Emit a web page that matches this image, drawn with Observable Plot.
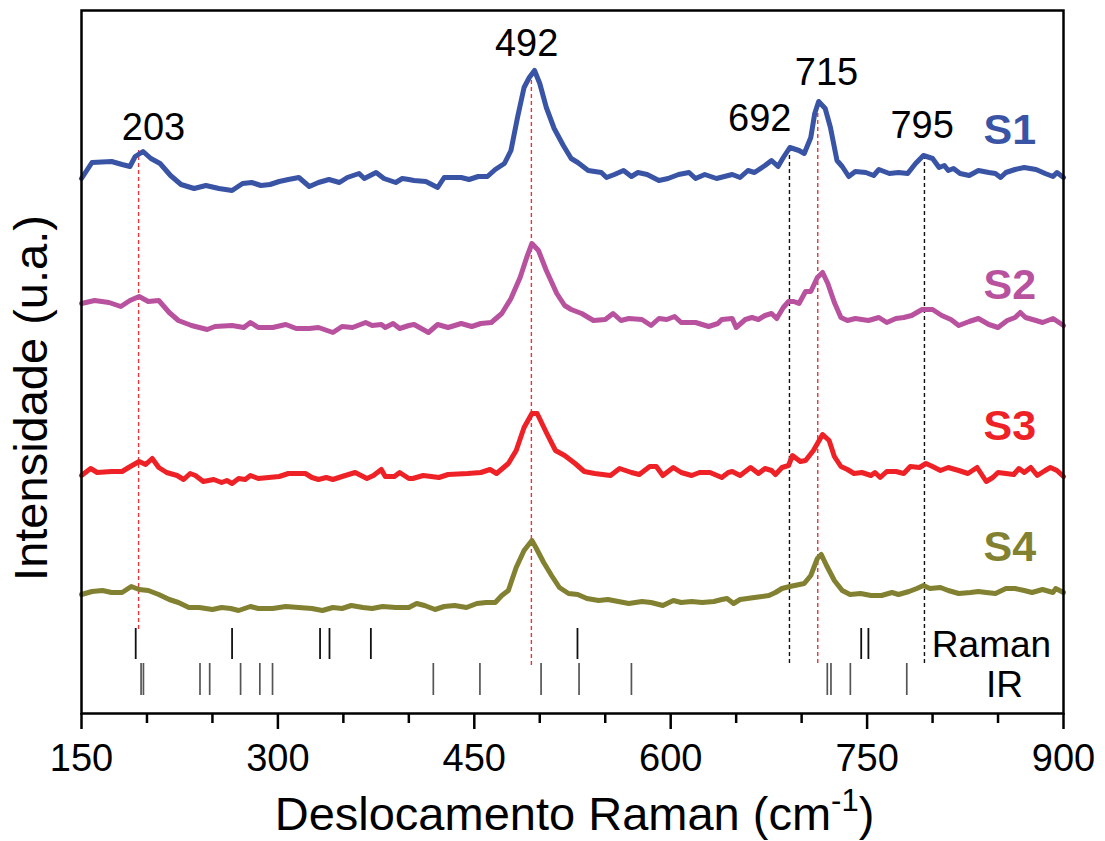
<!DOCTYPE html>
<html><head><meta charset="utf-8">
<script src="https://cdn.jsdelivr.net/npm/d3@7"></script>
<script src="https://cdn.jsdelivr.net/npm/@observablehq/plot@0.6"></script>
<style>body{margin:0;background:#fff;}</style>
</head><body><div id="chart"></div>
<script>
// Raman spectra: [shift (cm-1), intensity (a.u., stacked offset)]
const s1 = [[150,535],[158,551],[173,552],[181,549],[187,547],[191,557],[197,562],[203,555],[210,550],[218,538],[226,529],[236,525],[245,528],[255,525],[265,523],[273,530],[280,531],[287,528],[294,529],[301,532],[308,534],[316,536],[324,527],[331,531],[339,534],[347,531],[353,536],[362,540],[366,535],[375,541],[381,535],[390,531],[395,535],[400,534],[404,533],[413,532],[422,526],[427,536],[440,536],[446,534],[453,537],[460,537],[466,544],[473,550],[478,563],[483,596],[488,626],[492,636],[496,643],[500,630],[505,606],[511,585],[518,568],[524,555],[529,551],[537,543],[547,541],[551,536],[557,539],[564,543],[570,537],[575,541],[582,539],[591,533],[598,535],[606,539],[614,541],[619,535],[626,539],[635,535],[647,539],[653,536],[659,543],[664,541],[672,548],[677,553],[682,547],[686,556],[691,566],[698,563],[702,560],[707,576],[710,600],[713,612],[718,605],[722,586],[727,553],[731,547],[736,537],[741,542],[749,541],[755,538],[759,544],[767,540],[774,541],[781,540],[787,550],[793,558],[800,555],[805,546],[809,548],[812,543],[816,545],[821,540],[828,538],[835,543],[843,541],[848,540],[852,536],[856,541],[863,544],[870,546],[879,544],[886,540],[892,537],[895,541],[900,536]];
const s2 = [[150,410],[160,413],[171,411],[180,407],[187,413],[194,417],[201,412],[209,413],[217,401],[224,393],[234,388],[246,384],[252,387],[265,388],[274,386],[279,391],[285,386],[296,386],[306,389],[314,385],[324,385],[331,386],[342,381],[349,387],[357,386],[367,391],[372,388],[379,389],[382,386],[388,390],[393,385],[400,388],[404,389],[415,381],[422,389],[430,386],[440,390],[448,387],[455,390],[463,391],[471,400],[478,415],[485,436],[490,456],[494,470],[499,463],[505,443],[513,420],[519,408],[524,404],[532,400],[541,393],[550,394],[556,400],[562,393],[568,395],[578,394],[585,388],[591,395],[597,394],[603,397],[608,391],[619,391],[629,387],[636,390],[639,394],[647,395],[650,386],[657,394],[662,396],[667,394],[672,398],[677,400],[681,395],[686,406],[690,412],[694,412],[698,410],[703,422],[707,422],[712,436],[716,441],[720,430],[725,411],[730,396],[735,393],[741,395],[751,393],[759,396],[765,391],[772,395],[778,396],[784,398],[792,404],[800,404],[807,398],[814,394],[820,388],[828,392],[835,395],[843,389],[850,386],[857,393],[863,396],[867,401],[871,396],[879,393],[884,391],[892,395],[900,388]];
const s3 = [[150,238],[157,245],[162,241],[173,242],[181,242],[186,246],[194,252],[199,249],[204,255],[209,246],[215,241],[223,238],[228,234],[233,240],[237,238],[243,232],[251,234],[257,231],[261,233],[265,230],[270,235],[275,234],[279,238],[285,235],[293,236],[301,237],[308,240],[321,240],[326,236],[331,234],[337,236],[342,234],[349,237],[359,241],[368,235],[373,238],[379,244],[382,237],[389,237],[393,241],[400,235],[403,235],[411,238],[423,236],[430,239],[445,240],[455,241],[462,244],[467,240],[476,250],[482,263],[488,286],[494,300],[498,300],[505,281],[512,263],[519,258],[527,250],[534,242],[542,240],[554,238],[561,245],[570,241],[576,239],[584,247],[589,247],[594,238],[602,246],[608,241],[616,238],[622,241],[630,241],[639,236],[644,241],[647,242],[653,238],[661,246],[667,240],[672,245],[677,243],[680,239],[685,246],[690,248],[693,258],[699,252],[703,253],[709,263],[716,279],[721,273],[725,257],[730,247],[735,244],[740,240],[746,241],[753,238],[756,241],[760,236],[765,242],[772,242],[778,240],[783,247],[790,246],[795,250],[800,247],[806,243],[812,246],[820,243],[827,240],[834,246],[841,232],[846,236],[850,241],[856,240],[862,239],[866,245],[870,241],[875,246],[880,238],[886,243],[890,246],[895,243],[900,237]];
const s4 = [[150,119],[158,122],[166,123],[173,121],[181,121],[188,127],[194,124],[201,123],[209,119],[217,114],[224,111],[232,106],[240,106],[250,104],[257,106],[264,105],[270,103],[279,107],[285,105],[296,105],[306,107],[316,106],[326,105],[334,103],[342,106],[349,105],[356,108],[365,106],[372,105],[380,107],[390,106],[400,106],[406,110],[412,108],[420,104],[427,107],[435,108],[444,106],[452,110],[459,111],[466,111],[471,118],[476,123],[482,146],[488,163],[494,173],[497,166],[503,151],[509,138],[515,126],[522,120],[529,119],[536,115],[545,113],[552,114],[560,112],[568,110],[578,112],[585,111],[594,108],[602,113],[608,111],[616,112],[624,111],[633,112],[639,114],[643,115],[648,110],[653,114],[664,116],[675,118],[680,121],[685,125],[691,127],[702,130],[707,138],[712,155],[715,159],[719,148],[725,133],[731,123],[737,119],[745,120],[753,118],[761,118],[769,121],[774,119],[782,122],[788,125],[793,128],[798,125],[806,126],[812,123],[820,120],[829,121],[835,122],[841,121],[848,120],[856,125],[863,125],[870,123],[876,121],[884,124],[892,121],[894,125],[900,121]];

const seriesNames = ["S1", "S2", "S3", "S4"];
const seriesData = [s1, s2, s3, s4];
const seriesColors = ["#3a54a5", "#b8529f", "#ee2226", "#818131"];
const seriesLabelX = [859, 859, 859, 859];
const seriesLabelY = [583, 428, 287, 166];

const peakLabels = ["203", "492", "692", "715", "795"];
const peakLabelX = [205, 490, 668, 719, 792];
const peakLabelY = [586, 670, 595, 641, 588];

const redDashX = [193.6, 493.6, 712.3];
const redDashTop = [563, 638, 603];
const redDashBottom = [84, 48, 50];
const blackDashX = [690.7, 793.8];
const blackDashTop = [563, 556];
const blackDashBottom = [50, 50];

const ramanRef = [191.4, 265, 332.2, 339.4, 371, 528.8, 745.5, 751];
const irRef = [195.5, 197.3, 240.5, 247.9, 271.5, 286.2, 295.9, 418.7, 454.3, 501, 530, 570, 719.6, 722.4, 737.2, 780.3];
const ramanRow = [54, 85];
const irRow = [18, 50];
const rowLabels = ["Raman", "IR"];
const rowLabelX = [845, 855];
const rowLabelY = [68, 28];

const majorTicks = [150, 300, 450, 600, 750, 900];
const minorTicks = [200, 250, 350, 400, 500, 550, 650, 700, 800, 850];
const xTitle = "Deslocamento Raman (cm-1)";
const yTitle = "Intensidade (u.a.)";

const rows = seriesData.flatMap((d, i) => d.map(([shift, intensity]) => ({series: seriesNames[i], shift, intensity})));
const seriesLabels = seriesNames.map((name, i) => ({name, x: seriesLabelX[i], y: seriesLabelY[i]}));
const peaks = peakLabels.map((t, i) => ({t, x: peakLabelX[i], y: peakLabelY[i]}));
const redDash = redDashX.map((x, i) => ({x, y1: redDashBottom[i], y2: redDashTop[i]}));
const blackDash = blackDashX.map((x, i) => ({x, y1: blackDashBottom[i], y2: blackDashTop[i]}));
const rowText = rowLabels.map((t, i) => ({t, x: rowLabelX[i], y: rowLabelY[i]}));

const chart = Plot.plot({
  width: 1105,
  height: 841,
  marginLeft: 81,
  marginRight: 42,
  marginTop: 10,
  marginBottom: 128,
  style: {fontFamily: "'Liberation Sans', Arial, sans-serif", background: "#fff", color: "#000"},
  x: {domain: [150, 900]},
  y: {domain: [0, 703], axis: null},
  color: {domain: seriesNames, range: seriesColors},
  marks: [
    Plot.ruleX(redDash, {x: "x", y1: "y1", y2: "y2", stroke: "#e8343a", strokeWidth: 1.4, strokeDasharray: "4,3"}),
    Plot.ruleX(blackDash, {x: "x", y1: "y1", y2: "y2", stroke: "#111", strokeWidth: 1.4, strokeDasharray: "4,3"}),
    Plot.ruleX(ramanRef, {x: d => d, y1: ramanRow[0], y2: ramanRow[1], stroke: "#111", strokeWidth: 1.8}),
    Plot.ruleX(irRef, {x: d => d, y1: irRow[0], y2: irRow[1], stroke: "#555", strokeWidth: 1.7}),
    Plot.line(rows, {x: "shift", y: "intensity", z: "series", stroke: "series", strokeWidth: 5, strokeLinejoin: "round", strokeLinecap: "round"}),
    Plot.text(peaks, {x: "x", y: "y", text: "t", fontSize: 38, fill: "#000"}),
    Plot.text(seriesLabels, {x: "x", y: "y", text: "name", fill: "name", fontSize: 43, fontWeight: "bold"}),
    Plot.text(rowText, {x: "x", y: "y", text: "t", fontSize: 37, fill: "#000"}),
    Plot.frame({stroke: "#000", strokeWidth: 2.5}),
    Plot.axisX({ticks: minorTicks, tickSize: 10, tickFormat: () => "", strokeWidth: 2.5, label: null}),
    Plot.axisX({ticks: majorTicks, tickSize: 16, tickPadding: 15, fontSize: 38, strokeWidth: 2.5, tickFormat: d3.format("d"), label: null}),
    Plot.text([xTitle], {frameAnchor: "bottom", textAnchor: "middle", lineAnchor: "middle", dx: 2, dy: 101, fontSize: 47, fill: "#000"}),
    Plot.text([yTitle], {frameAnchor: "left", textAnchor: "middle", lineAnchor: "middle", rotate: -90, dx: -50, dy: 36, fontSize: 47, fill: "#000"})
  ]
});

document.getElementById("chart").append(chart);

// superscript on the x title
const t = [...chart.querySelectorAll("text")].find(e => e.textContent === xTitle);
if (t) {
  const ns = "http://www.w3.org/2000/svg";
  t.textContent = "";
  const a = document.createElementNS(ns, "tspan"); a.textContent = "Deslocamento Raman (cm";
  const b = document.createElementNS(ns, "tspan"); b.textContent = "-1"; b.setAttribute("dy", "-19"); b.setAttribute("font-size", "31");
  const c = document.createElementNS(ns, "tspan"); c.textContent = ")"; c.setAttribute("dy", "19");
  t.append(a, b, c);
}
</script>
</body></html>
